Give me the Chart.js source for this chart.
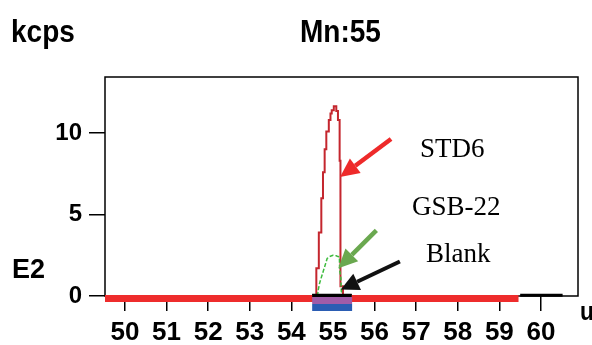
<!DOCTYPE html>
<html>
<head>
<meta charset="utf-8">
<script src="https://cdn.jsdelivr.net/npm/chart.js@4.4.1/dist/chart.umd.min.js"></script>
<style>
  body { margin: 0; background: #fff; }
  #wrap { width: 592px; height: 345px; }
</style>
</head>
<body>
<div id="wrap"><canvas id="massChart" width="592" height="345"></canvas></div>
<script>
// mass scale (u) and counts (kcps)
const massTicks = [50, 51, 52, 53, 54, 55, 56, 57, 58, 59, 60];
const countTicks = [0, 5, 10];

// STD6 peak, stepped levels
const stdMass = [54.58, 54.60, 54.66, 54.72, 54.76, 54.80, 54.84, 54.90, 54.94, 54.97, 55.02, 55.08, 55.12, 55.16, 55.18, 55.24];
const stdKcps = [0, 1.7, 3.9, 6.0, 7.6, 9.0, 10.1, 10.8, 11.2, 11.4, 11.65, 11.35, 10.8, 8.3, 0.6, 0];

// GSB-22 peak
const gsbMass = [54.63, 54.64, 54.68, 54.74, 54.80, 54.86, 54.92, 55.00, 55.08, 55.12, 55.155, 55.16, 55.19, 55.20, 55.23];
const gsbKcps = [0, 0.3, 0.8, 1.3, 1.8, 2.3, 2.42, 2.5, 2.47, 2.42, 2.4, 1.6, 1.1, 0.3, 0];

// Blank (flat)
const blankMass = [54.50, 55.45, 55.46, 59.50, 60.52];
const blankKcps = [0.05, 0.05, null, 0.05, 0.05];

// scan window and peak integration window (u)
const scanRange = [49.52, 59.46];
const peakRange = [54.50, 55.46];

function pts(xs, ys) { return xs.map((x, i) => ({ x: x, y: ys[i] })); }

function drawArrow(ctx, x1, y1, x2, y2, color, w, headLen, headHalf) {
    const ang = Math.atan2(y2 - y1, x2 - x1);
    const bx = x2 - headLen * Math.cos(ang), by = y2 - headLen * Math.sin(ang);
    ctx.save();
    ctx.strokeStyle = color;
    ctx.fillStyle = color;
    ctx.lineWidth = w;
    ctx.beginPath();
    ctx.moveTo(x1, y1);
    ctx.lineTo(bx, by);
    ctx.stroke();
    ctx.beginPath();
    ctx.moveTo(x2, y2);
    ctx.lineTo(bx + headHalf * Math.sin(ang), by - headHalf * Math.cos(ang));
    ctx.lineTo(bx - headHalf * Math.sin(ang), by + headHalf * Math.cos(ang));
    ctx.closePath();
    ctx.fill();
    ctx.restore();
}

// narrow bold text, squeezed horizontally like the instrument font
function narrowText(ctx, txt, x, y, size) {
    ctx.save();
    ctx.translate(x, y);
    ctx.scale(0.875, 1);
    ctx.font = 'bold ' + size + 'px "Liberation Sans", Arial';
    ctx.fillText(txt, 0, 0);
    ctx.restore();
}

const decorations = {
    id: 'decorations',
    beforeDatasetsDraw(chart) {
        const { ctx, chartArea: a } = chart;
        ctx.save();
        ctx.strokeStyle = '#000';
        ctx.lineWidth = 1.5;
        ctx.strokeRect(a.left, a.top, a.right - a.left, a.bottom - a.top);
        ctx.restore();
    },
    afterDatasetsDraw(chart) {
        const { ctx, chartArea: a, scales: { x, y } } = chart;
        ctx.save();
        // scan window bar
        ctx.fillStyle = '#ee2c2c';
        ctx.fillRect(x.getPixelForValue(scanRange[0]), a.bottom - 1, x.getPixelForValue(scanRange[1]) - x.getPixelForValue(scanRange[0]), 7);
        // peak window bars
        const p0 = x.getPixelForValue(peakRange[0]), p1 = x.getPixelForValue(peakRange[1]);
        ctx.fillStyle = '#a05ca8';
        ctx.fillRect(p0, a.bottom + 1, p1 - p0, 7);
        ctx.fillStyle = '#2b5db3';
        ctx.fillRect(p0, a.bottom + 8, p1 - p0, 7);
        // blank line over the peak window
        ctx.fillStyle = '#000';
        ctx.fillRect(x.getPixelForValue(blankMass[0]), a.bottom - 2, x.getPixelForValue(blankMass[1]) - x.getPixelForValue(blankMass[0]), 3);
        ctx.restore();

        // arrows
        const rx = x.getPixelForValue(55.17), ry = y.getPixelForValue(7.3);
        drawArrow(ctx, rx + 51, ry - 38, rx, ry, '#ee2a2a', 4.5, 19, 9);
        const gx = x.getPixelForValue(55.13), gy = y.getPixelForValue(1.7);
        drawArrow(ctx, gx + 38, gy - 38, gx, gy, '#6aa84f', 4.5, 19, 9);
        const kx = x.getPixelForValue(55.19), ky = y.getPixelForValue(0.4);
        drawArrow(ctx, kx + 59, ky - 28, kx, ky, '#111', 4, 18, 9);
    },
    afterDraw(chart) {
        const { ctx } = chart;
        ctx.save();
        ctx.fillStyle = '#000';
        ctx.textBaseline = 'alphabetic';
        ctx.textAlign = 'left';
        narrowText(ctx, 'kcps', 11, 42, 32);
        narrowText(ctx, 'Mn:55', 300, 42, 32);
        narrowText(ctx, 'u', 580, 320, 26);
        ctx.font = 'bold 27px "Liberation Sans", Arial';
        ctx.fillText('E2', 12, 278);
        ctx.font = '27px "Liberation Serif", "Times New Roman", serif';
        ctx.fillText('STD6', 420, 157);
        ctx.fillText('GSB-22', 412, 215);
        ctx.fillText('Blank', 426, 262);
        ctx.restore();
    }
};

new Chart(document.getElementById('massChart').getContext('2d'), {
    type: 'scatter',
    data: {
        datasets: [
            {
                label: 'Blank',
                data: pts(blankMass, blankKcps),
                showLine: true,
                borderColor: '#000',
                borderWidth: 3,
                pointRadius: 0,
                spanGaps: false,
                clip: false
            },
            {
                label: 'GSB-22',
                data: pts(gsbMass, gsbKcps),
                showLine: true,
                borderColor: '#3dbb3d',
                borderWidth: 1.5,
                borderDash: [4, 2],
                pointRadius: 0,
                clip: false
            },
            {
                label: 'STD6',
                data: pts(stdMass, stdKcps),
                showLine: true,
                stepped: true,
                borderColor: '#c4262e',
                borderWidth: 2,
                pointRadius: 0,
                clip: false
            }
        ]
    },
    options: {
        responsive: false,
        animation: false,
        layout: { padding: { top: 77, right: 14, left: 0, bottom: 0 } },
        plugins: {
            legend: { display: false },
            tooltip: { enabled: false }
        },
        scales: {
            x: {
                type: 'linear',
                min: 49.52,
                max: 60.89,
                afterBuildTicks: s => { s.ticks = massTicks.map(v => ({ value: v })); },
                afterFit: s => { s.height = 49; },
                border: { display: false },
                grid: { drawOnChartArea: false, drawTicks: true, tickLength: 15, color: '#000', lineWidth: 1.5 },
                ticks: {
                    color: '#000',
                    padding: 6,
                    maxRotation: 0,
                    autoSkip: false,
                    font: { family: '"Liberation Sans", Arial', weight: 'bold', size: 26 }
                }
            },
            y: {
                min: 0,
                max: 13.44,
                afterBuildTicks: s => { s.ticks = countTicks.map(v => ({ value: v })); },
                afterFit: s => { s.width = 105; },
                border: { display: false },
                grid: { drawOnChartArea: false, drawTicks: true, tickLength: 16, color: '#000', lineWidth: 1.5 },
                ticks: {
                    color: '#000',
                    padding: 7,
                    font: { family: '"Liberation Sans", Arial', weight: 'bold', size: 24 }
                }
            }
        }
    },
    plugins: [decorations]
});
</script>
</body>
</html>
